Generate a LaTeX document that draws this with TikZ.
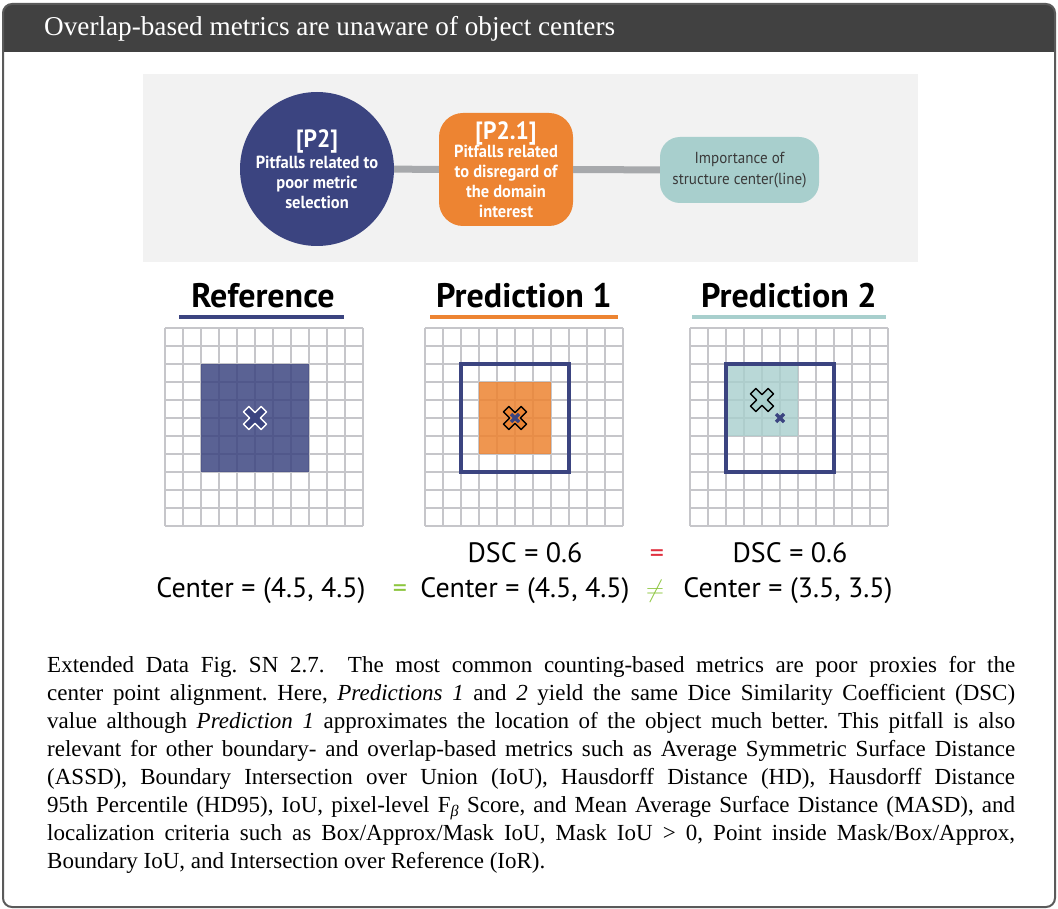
\documentclass[tikz,border=0pt]{standalone}
\usepackage{fontspec}
\setmainfont{Liberation Serif}
\newfontfamily\condsans[FakeStretch=0.94]{PT Sans}
\newfontfamily\labsans{PT Sans}
\definecolor{navy}{HTML}{3B4480}
\definecolor{orng}{HTML}{ED8432}
\definecolor{tealc}{HTML}{A8CFCD}
\definecolor{headgray}{HTML}{414141}
\definecolor{framegray}{HTML}{5A5A5A}
\definecolor{bannergray}{HTML}{F2F2F2}
\definecolor{conngray}{HTML}{A7A9AC}
\definecolor{gridc}{HTML}{C6C6CA}
\definecolor{txtgray}{HTML}{3A3A3A}
\definecolor{eqred}{HTML}{E0303F}
\definecolor{eqgreen}{HTML}{8DC63F}
\tikzset{
  gridline/.style={gridc, line width=1.2pt},
  conn/.style={conngray, line width=7pt},
  circ/.style={circle, fill=navy, minimum size=154pt, inner sep=0pt, text=white, align=center, font=\condsans\bfseries\fontsize{17.5}{20}\selectfont},
  obox/.style={rectangle, rounded corners=24pt, fill=orng, minimum width=134pt, minimum height=113pt, inner sep=0pt, text=white, align=center, font=\condsans\bfseries\fontsize{17.5}{20}\selectfont},
  tbox/.style={rectangle, rounded corners=20pt, fill=tealc, minimum width=159pt, minimum height=66pt, inner sep=0pt, text=txtgray, align=center, font=\condsans\fontsize{16}{21}\selectfont},
  coltitle/.style={anchor=base, inner sep=0pt, font=\labsans\bfseries\fontsize{34}{38}\selectfont},
  lab/.style={anchor=base, inner sep=0pt, font=\labsans\fontsize{28}{32}\selectfont},
  outl/.style={navy, line width=4pt},
  uline/.style={line width=4pt}
}
\newcommand\cellgrid[2]{%
  \foreach \i in {0,...,11}{%
    \draw[gridline] (#1+\i*18,#2) -- (#1+\i*18,#2+198);
    \draw[gridline] (#1,#2+\i*18) -- (#1+198,#2+\i*18);
  }}
\newcommand\bigcross[4]{%
  \begin{scope}[shift={(#1,#2)}, rotate=45]
    \filldraw[fill=#3, draw=#4, line width=1.4pt, line join=round]
      (3.8,12.5)--(3.8,3.8)--(12.5,3.8)--(12.5,-3.8)--(3.8,-3.8)--(3.8,-12.5)--(-3.8,-12.5)--(-3.8,-3.8)--(-12.5,-3.8)--(-12.5,3.8)--(-3.8,3.8)--(-3.8,12.5)--cycle;
  \end{scope}}
\newcommand\smallx[2]{%
  \draw[navy, line width=3.2pt] (#1-4,#2-4)--(#1+4,#2+4) (#1-4,#2+4)--(#1+4,#2-4);}
\begin{document}
\begin{tikzpicture}[x=1pt,y=-1pt]
\useasboundingbox (0,0) rectangle (1058,909);
% frame
\fill[white, rounded corners=9pt] (3,4) rectangle (1055,907);
\begin{scope}
  \clip[rounded corners=9pt] (3,4) rectangle (1055,907);
  \fill[headgray] (3,4) rectangle (1055,52);
\end{scope}
\draw[framegray, line width=2pt, rounded corners=9pt] (3,4) rectangle (1055,907);
\node[anchor=base west, inner sep=0pt, text=white, font=\fontsize{27.2}{30}\selectfont] (title) at (44,36) {Overlap-based metrics are unaware of object centers};
% banner
\fill[bannergray] (143,74) rectangle (918,262);
\node[circ] (p2) at (317,169) {{\fontsize{25}{26}\selectfont [P2]}\\[1pt]Pitfalls related to\\poor metric\\selection};
\node[obox] (p21) at (506,169.5) {{\fontsize{25}{26}\selectfont [P2.1]}\\[-2pt]Pitfalls related\\to disregard of\\the domain\\interest};
\node[tbox] (imp) at (739.5,170) {Importance of\\structure center(line)};
\draw[conn] (p2) -- (p21);
\draw[conn] (p21) -- (imp);
% column titles
\node[coltitle] (reft) at (263,308) {Reference};
\node[coltitle] (p1t) at (524,308) {Prediction 1};
\node[coltitle] (p2t) at (789,308) {Prediction 2};
\draw[uline, navy] (179,317) -- (344,317);
\draw[uline, orng] (430,317) -- (618,317);
\draw[uline, tealc] (692,317) -- (886,317);
% reference grid
\cellgrid{165}{328}
\fill[navy, opacity=.84] (201,364) rectangle (309,472);
\bigcross{255}{418}{navy}{white}
% prediction 1
\cellgrid{425}{328}
\fill[orng, opacity=.85] (479,382) rectangle (551,454);
\draw[outl] (461,364) rectangle (569,472);
\bigcross{515}{418}{orng}{black}
\smallx{515}{418}
% prediction 2
\cellgrid{690}{328}
\fill[tealc, opacity=.8] (726,364) rectangle (798,436);
\draw[outl] (726,364) rectangle (834,472);
\bigcross{762}{400}{tealc}{black}
\smallx{780}{418}
% labels
\node[lab] (dsc1) at (525,562) {DSC = 0.6};
\node[lab, text=eqred] (eq1) at (657,562) {=};
\node[lab] (dsc2) at (790,562) {DSC = 0.6};
\node[lab] (c0) at (261,597) {Center = (4.5, 4.5)};
\node[lab, text=eqgreen] (eq2) at (400,597) {=};
\node[lab] (c1) at (525,597) {Center = (4.5, 4.5)};
\node[lab, text=eqgreen] (neq) at (655,597) {$\neq$};
\node[lab] (c2) at (788,597) {Center = (3.5, 3.5)};
% caption
\node[anchor=north west, inner sep=0pt, text width=968pt, align=justify, font=\fontsize{23}{28}\selectfont] (cap) at (47,656) {\frenchspacing\hyphenpenalty=10000\tolerance=9999
Extended Data Fig. SN 2.7.\ \ The most common counting-based metrics are poor proxies for the\linebreak
center point alignment. Here, \textit{Predictions 1} and \textit{2} yield the same Dice Similarity Coefficient (DSC)\linebreak
value although \textit{Prediction 1} approximates the location of the object much better. This pitfall is also\linebreak
relevant for other boundary- and overlap-based metrics such as Average Symmetric Surface Distance\linebreak
(ASSD), Boundary Intersection over Union (IoU), Hausdorff Distance (HD), Hausdorff Distance\linebreak
95th Percentile (HD95), IoU, pixel-level F\textsubscript{\textit{β}} Score, and Mean Average Surface Distance (MASD), and\linebreak
localization criteria such as Box/Approx/Mask IoU, Mask IoU > 0, Point inside Mask/Box/Approx,\linebreak
Boundary IoU, and Intersection over Reference (IoR).};
\end{tikzpicture}
\end{document}
